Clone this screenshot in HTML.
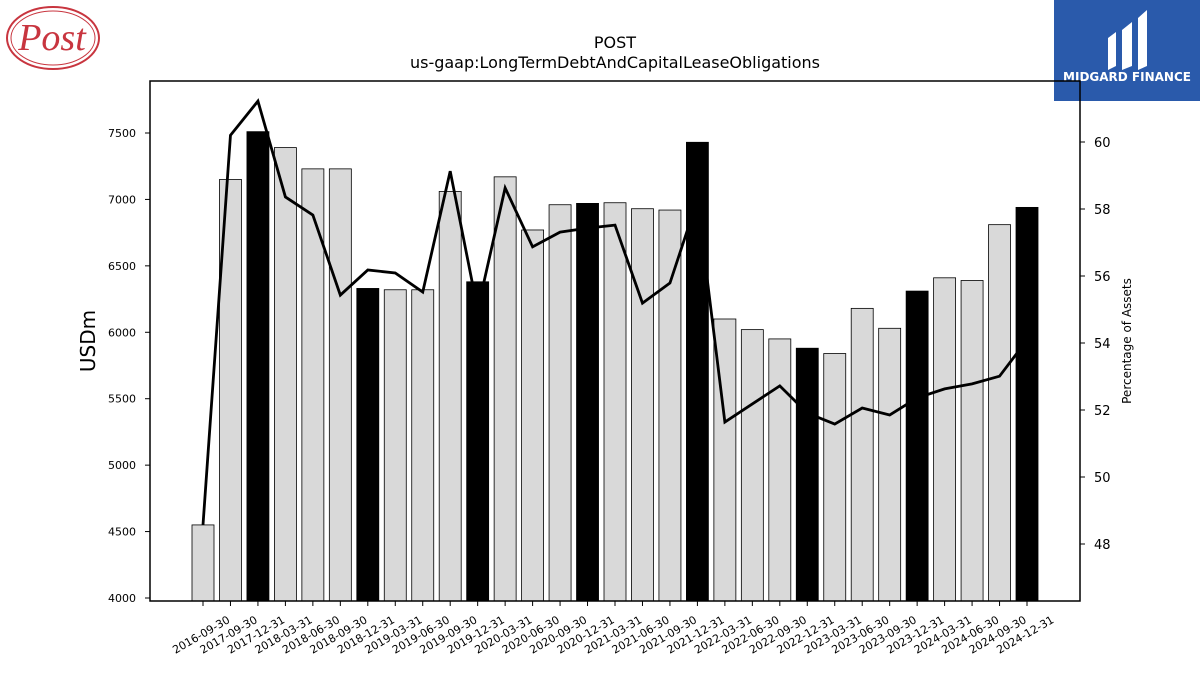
<!DOCTYPE html>
<html><head><meta charset="utf-8"><style>
body{margin:0;background:#fff;font-family:"Liberation Sans","DejaVu Sans",sans-serif}
</style></head><body>
<svg id="c" width="1200" height="675" xmlns="http://www.w3.org/2000/svg" style="font-family:'DejaVu Sans','Liberation Sans',sans-serif">
<g>
<ellipse cx="53" cy="38" rx="46" ry="31" fill="#fff" stroke="#c8353f" stroke-width="2"/>
<ellipse cx="53" cy="38" rx="42" ry="27" fill="none" stroke="#c8353f" stroke-width="1"/>
<text x="52" y="50" text-anchor="middle" font-family="Liberation Serif,serif" font-style="italic" font-size="38" fill="#c8353f">Post</text>
</g>
<g>
<rect x="1054" y="0" width="146" height="101" fill="#2a5aab"/>
<path d="M1108 38 L1116 32 L1116 66 L1108 70Z M1122 30 L1132 22 L1132 66 L1122 70Z M1138 18 L1147 10 L1147 66 L1138 70Z" fill="#fff"/>
<text x="1127" y="81" text-anchor="middle" font-size="12" font-weight="bold" fill="#fff">MIDGARD FINANCE</text>
</g>
<text x="615" y="48" text-anchor="middle" font-size="16">POST</text>
<text x="615" y="68" text-anchor="middle" font-size="16">us-gaap:LongTermDebtAndCapitalLeaseObligations</text>
<g id="bars"></g><g id="axes"></g>
<rect x="150" y="81" width="930" height="520" fill="none" stroke="#000" stroke-width="1.5"/>
<text transform="translate(95,341) rotate(-90)" text-anchor="middle" font-size="20">USDm</text>
<text transform="translate(1131,341) rotate(-90)" text-anchor="middle" font-size="12">Percentage of Assets</text>
</svg>
<script>
const categories=["2016-09-30","2017-09-30","2017-12-31","2018-03-31","2018-06-30","2018-09-30","2018-12-31","2019-03-31","2019-06-30","2019-09-30","2019-12-31","2020-03-31","2020-06-30","2020-09-30","2020-12-31","2021-03-31","2021-06-30","2021-09-30","2021-12-31","2022-03-31","2022-06-30","2022-09-30","2022-12-31","2023-03-31","2023-06-30","2023-09-30","2023-12-31","2024-03-31","2024-06-30","2024-09-30","2024-12-31"];
const debtValues=[4550,7150,7510,7390,7230,7230,6330,6320,6320,7060,6380,7170,6770,6960,6970,6975,6930,6920,7430,6100,6020,5950,5880,5840,6180,6030,6310,6410,6390,6810,6940];
const pctAssets=[48.57,60.2,61.22,58.36,57.82,55.43,56.18,56.09,55.52,59.13,54.99,58.63,56.87,57.31,57.43,57.52,55.19,55.79,58.27,51.64,52.18,52.72,51.91,51.58,52.06,51.85,52.36,52.63,52.78,53.01,54.09];
const yTicks=[4000,4500,5000,5500,6000,6500,7000,7500];
const y2Ticks=[48,50,52,54,56,58,60];
const NS="http://www.w3.org/2000/svg";
const y=v=>598-(v-4000)*0.13286;
const y2=v=>142-(v-60)*33.5;
const x=i=>203+i*27.467;
function mk(t,a,p){const e=document.createElementNS(NS,t);for(const k in a)e.setAttribute(k,a[k]);p.appendChild(e);return e;}
const B=document.getElementById('bars'),A=document.getElementById('axes');
categories.forEach((c,i)=>{
 const dark=c.endsWith('12-31');
 const r=mk('rect',{x:x(i)-11,y:y(debtValues[i]),width:22,height:601-y(debtValues[i]),fill:dark?'#000':'#d9d9d9',stroke:'#000','stroke-width':0.8},B);
 
 
 mk('line',{x1:x(i),x2:x(i),y1:601,y2:606,stroke:'#000'},A);
 const t=mk('text',{'font-size':11,'text-anchor':'middle',transform:`translate(${x(i)},${638}) rotate(-30)`},A);
 t.textContent=c;
 
 
});
const pl=mk('polyline',{points:pctAssets.map((v,i)=>x(i)+','+y2(v)).join(' '),fill:'none',stroke:'#000','stroke-width':2.8},B);


yTicks.forEach(v=>{mk('line',{x1:145,x2:150,y1:y(v),y2:y(v),stroke:'#000'},A);
 const t=mk('text',{x:136,y:y(v)+4,'font-size':11,'text-anchor':'end'},A);t.textContent=v;
 
 });
y2Ticks.forEach(v=>{mk('line',{x1:1080,x2:1085,y1:y2(v),y2:y2(v),stroke:'#000'},A);
 const t=mk('text',{x:1094,y:y2(v)+5,'font-size':13},A);t.textContent=v;
 
 });
</script>
</body></html>
